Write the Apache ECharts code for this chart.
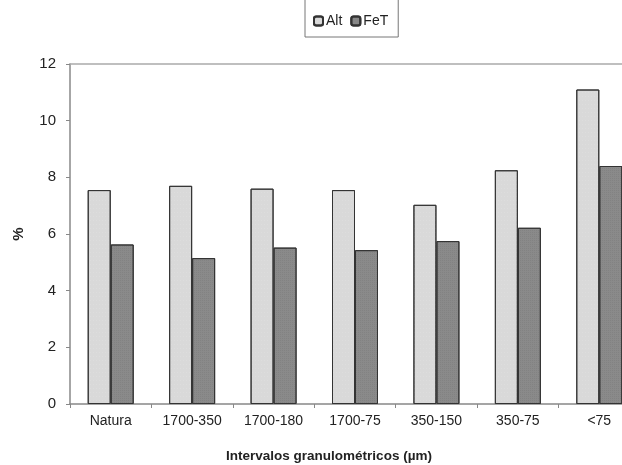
<!DOCTYPE html>
<html><head><meta charset="utf-8">
<script src="https://cdn.jsdelivr.net/npm/echarts@6/dist/echarts.min.js"></script>
<style>html,body{margin:0;padding:0;background:#fff}#c{width:622px;height:465px}</style>
</head><body><div id="c"></div>
<script>
const categories = ['Natura','1700-350','1700-180','1700-75','350-150','350-75','<75'];
const altValues = [7.55, 7.7, 7.6, 7.55, 7.03, 8.25, 11.1];
const fetValues = [5.63, 5.15, 5.52, 5.43, 5.75, 6.22, 8.4];
const yTicks = [0, 2, 4, 6, 8, 10, 12];

const chart = echarts.init(document.getElementById('c'));
const font = 'Liberation Sans, Arial, sans-serif';
chart.setOption({
  animation: false,
  backgroundColor: '#fff',
  textStyle: {fontFamily: font},
  legend: {
    top: -4, left: 305,
    itemWidth: 9, itemHeight: 9, itemGap: 8,
    padding: [18, 10, 9, 8],
    borderColor: '#777', borderWidth: 1,
    textStyle: {fontFamily: font, fontSize: 14, color: '#222', padding: [0, 0, 0, -2]},
    data: ['Alt', 'FeT']
  },
  grid: {left: 70, width: 570, top: 64, height: 340, containLabel: false, outerBoundsMode: 'none'},
  xAxis: [{
    type: 'category', data: categories,
    axisLine: {lineStyle: {color: '#888', width: 1.5}},
    axisTick: {show: true, length: 4, lineStyle: {color: '#888'}},
    axisLabel: {color: '#222', fontSize: 14, fontFamily: font, margin: 10},
    name: 'Intervalos granulométricos (µm)', nameLocation: 'middle', nameGap: 45,
    nameTextStyle: {fontWeight: 'bold', fontSize: 13.5, color: '#222', fontFamily: font, padding: [0, 52, 0, 0]}
  }, {
    type: 'category', data: categories, position: 'top',
    axisLine: {lineStyle: {color: '#aaa', width: 1.5}},
    axisTick: {show: false}, axisLabel: {show: false}
  }],
  yAxis: {
    type: 'value', min: 0, max: 12, interval: 2,
    axisLine: {show: true, lineStyle: {color: '#888', width: 1.5}},
    axisTick: {show: true, length: 4, lineStyle: {color: '#888'}},
    axisLabel: {color: '#222', fontSize: 15, fontFamily: font, margin: 14,
      formatter: v => yTicks.includes(v) ? String(v) : ''},
    splitLine: {show: false},
    name: '%', nameLocation: 'middle', nameGap: 44, nameRotate: 90,
    nameTextStyle: {fontWeight: 'bold', fontSize: 15, color: '#222', fontFamily: font}
  },
  series: [{
    name: 'Alt', type: 'bar', data: altValues, barWidth: 23, barGap: '0%',
    itemStyle: {color: '#d9d9d9', borderColor: '#333', borderWidth: 1,
      decal: {symbol: 'rect', symbolSize: 0.5, dashArrayX: [[1, 2]], dashArrayY: [1, 3], color: 'rgba(255,255,255,0.5)', rotation: 0}}
  }, {
    name: 'FeT', type: 'bar', data: fetValues, barWidth: 23,
    itemStyle: {color: '#8a8a8a', borderColor: '#333', borderWidth: 1,
      decal: {symbol: 'rect', symbolSize: 0.5, dashArrayX: [[1, 1]], dashArrayY: [1, 1], color: 'rgba(60,60,60,0.4)', rotation: 0}}
  }]
});
</script></body></html>
